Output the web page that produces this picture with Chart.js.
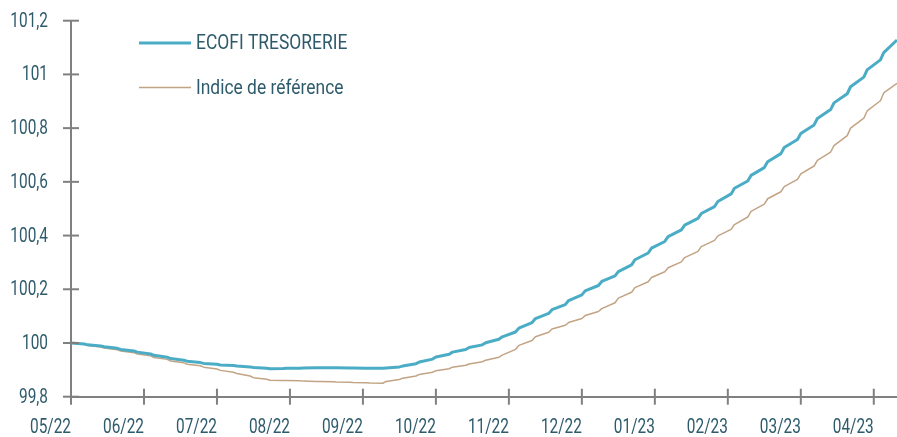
<!DOCTYPE html>
<html>
<head>
<meta charset="utf-8">
<script src="https://cdn.jsdelivr.net/npm/chart.js@4.4.1/dist/chart.umd.min.js"></script>
<style>
  html, body { margin: 0; padding: 0; background: #fff; }
  #wrap { width: 897px; height: 437px; }
</style>
</head>
<body>
<div id="wrap"><canvas id="c" width="897" height="437"></canvas></div>
<script>
// business-day index of each point (Monday / Friday of each week from 05/22)
const days = [0,4,5,9,10,14,15,19,20,24,25,29,30,34,35,39,40,44,45,49,
  50,54,55,59,60,64,65,69,70,74,75,79,80,84,85,89,90,94,95,99,
  100,104,105,109,110,114,115,119,120,124,125,129,130,134,135,139,140,144,145,149,
  150,154,155,159,160,164,165,169,170,174,175,179,180,184,185,189,190,194,195,199,
  200,204,205,209,210,214,215,219,220,224,225,229,230,234,235,239,240,244,245,249];

const ecofi = [100.000,99.996, 99.993,99.989, 99.986,99.980, 99.976,99.970, 99.966,99.959,
  99.954,99.947, 99.942,99.936, 99.932,99.927, 99.924,99.921, 99.918,99.916,
  99.914,99.911, 99.909,99.906, 99.904,99.905, 99.906,99.906, 99.907,99.908,
  99.908,99.908, 99.908,99.907, 99.907,99.906, 99.906,99.906, 99.907,99.911,
  99.914,99.923, 99.929,99.940, 99.948,99.958, 99.966,99.976, 99.983,99.993,
  100.001,100.014, 100.023,100.041, 100.055,100.076, 100.091,100.110, 100.124,100.143,
  100.158,100.179, 100.194,100.214, 100.229,100.250, 100.266,100.291, 100.310,100.335,
  100.353,100.378, 100.396,100.421, 100.439,100.464, 100.482,100.508, 100.527,100.555,
  100.576,100.603, 100.624,100.653, 100.675,100.705, 100.728,100.758, 100.780,100.812,
  100.836,100.869, 100.894,100.928, 100.954,100.990, 101.017,101.054, 101.081,101.128];

const indice = [100.000,99.995, 99.991,99.985, 99.981,99.975, 99.970,99.964, 99.959,99.952,
  99.946,99.939, 99.933,99.926, 99.921,99.915, 99.910,99.903, 99.898,99.891,
  99.886,99.877, 99.871,99.865, 99.861,99.860, 99.860,99.859, 99.858,99.857,
  99.857,99.856, 99.855,99.854, 99.853,99.852, 99.851,99.850, 99.857,99.864,
  99.869,99.877, 99.883,99.891, 99.897,99.904, 99.910,99.917, 99.922,99.930,
  99.936,99.947, 99.955,99.976, 99.991,100.009, 100.023,100.040, 100.052,100.066,
  100.076,100.091, 100.102,100.117, 100.128,100.150, 100.167,100.189, 100.206,100.228,
  100.244,100.265, 100.280,100.302, 100.318,100.341, 100.359,100.382, 100.399,100.423,
  100.441,100.469, 100.490,100.517, 100.537,100.563, 100.582,100.609, 100.630,100.659,
  100.680,100.711, 100.735,100.772, 100.800,100.837, 100.864,100.902, 100.931,100.967];

const monthLabels = ['05/22','06/22','07/22','08/22','09/22','10/22','11/22','12/22','01/23','02/23','03/23','04/23'];
const daysPerMonth = 22;
const seriesNames = ['ECOFI TRESORERIE', 'Indice de référence'];

const F = "Roboto,'DejaVu Sans',sans-serif";
const TXT = '#2E5B6C';
const AX = '#808080';
const NARROW = 0.77;   // the source font is a condensed face

const fmtY = v => v.toLocaleString('fr-FR', { maximumFractionDigits: 1 });

// condensed text: squeeze horizontally around the anchor point
function narrowText(ctx, txt, x, y, align, sx) {
  ctx.save();
  ctx.translate(x, y);
  ctx.scale(sx, 1);
  ctx.textAlign = align;
  ctx.textBaseline = 'middle';
  ctx.fillText(txt, 0, 0);
  ctx.restore();
}

// ticks crossing the axis lines + axis labels
const axisDeco = {
  id: 'axisDeco',
  afterDraw(chart) {
    const ctx = chart.ctx, xA = chart.scales.x, yA = chart.scales.y;
    ctx.save();
    ctx.strokeStyle = AX; ctx.lineWidth = 2;
    ctx.fillStyle = TXT;
    ctx.font = `20px ${F}`;
    yA.ticks.forEach(t => {
      const py = yA.getPixelForValue(t.value);
      ctx.beginPath(); ctx.moveTo(xA.left - 8, py); ctx.lineTo(xA.left + 8, py); ctx.stroke();
      narrowText(ctx, fmtY(t.value), xA.left - 23, py + 1, 'right', NARROW);
    });
    xA.ticks.forEach((t, i) => {
      const px = xA.getPixelForValue(t.value);
      ctx.beginPath(); ctx.moveTo(px, yA.bottom - 8); ctx.lineTo(px, yA.bottom + 8); ctx.stroke();
      narrowText(ctx, monthLabels[i], px, yA.bottom + 31, 'right', NARROW);
    });
    ctx.restore();
  }
};

// legend: line sample + label, stacked in the top-left of the plot
const lineLegend = {
  id: 'lineLegend',
  afterDraw(chart) {
    const ctx = chart.ctx;
    ctx.save();
    ctx.fillStyle = TXT;
    ctx.font = `21px ${F}`;
    chart.data.datasets.forEach((ds, i) => {
      const y = 43 + i * 44.5;
      ctx.strokeStyle = ds.borderColor; ctx.lineWidth = ds.borderWidth;
      ctx.beginPath(); ctx.moveTo(139, y); ctx.lineTo(191, y); ctx.stroke();
      narrowText(ctx, ds.label, 196, y + 1, 'left', 0.83);
    });
    ctx.restore();
  }
};

const toPts = vals => vals.map((v, i) => ({ x: days[i], y: v }));

new Chart(document.getElementById('c'), {
  type: 'line',
  data: {
    datasets: [
      { label: seriesNames[0], data: toPts(ecofi), borderColor: '#4BACC6', borderWidth: 3,
        pointRadius: 0, tension: 0, fill: false, borderJoinStyle: 'round' },
      { label: seriesNames[1], data: toPts(indice), borderColor: '#C2A484', borderWidth: 1.5,
        pointRadius: 0, tension: 0, fill: false, borderJoinStyle: 'round' }
    ]
  },
  options: {
    responsive: false, animation: false,
    layout: { padding: { top: 20.7, right: 0, bottom: 0, left: 0 } },
    plugins: { legend: { display: false }, tooltip: { enabled: false } },
    scales: {
      x: {
        type: 'linear', min: 0, max: days[days.length - 1],
        grid: { display: false, drawTicks: false },
        border: { display: true, color: AX, width: 2 },
        afterBuildTicks: s => { s.ticks = monthLabels.map((_, i) => ({ value: i * daysPerMonth })); },
        afterFit: s => { s.height = 40.3; },
        ticks: { display: false }
      },
      y: {
        min: 99.8, max: 101.2,
        grid: { display: false, drawTicks: false },
        border: { display: true, color: AX, width: 2 },
        afterFit: s => { s.width = 71; },
        ticks: { display: false, stepSize: 0.2 }
      }
    }
  },
  plugins: [axisDeco, lineLegend]
});
</script>
</body>
</html>
